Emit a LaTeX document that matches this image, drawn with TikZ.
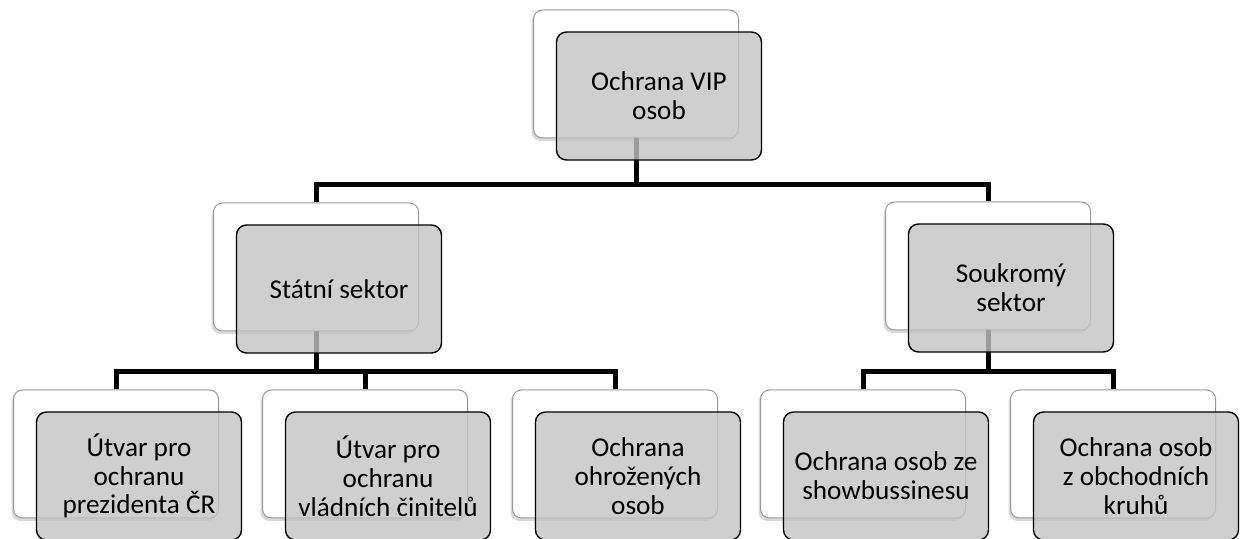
\documentclass[tikz,border=0pt]{standalone}
\usepackage{fontspec}
\setmainfont{Carlito}
\usetikzlibrary{shadows}
\definecolor{seda}{RGB}{195,195,195}

\begin{document}
\begin{tikzpicture}[x=0.5pt,y=-0.5pt,
  zadni/.style={draw=black!40, fill=white, line width=0.5pt, rounded corners=4.5pt,
    minimum width=102.5pt, minimum height=64pt, inner sep=0pt,
    drop shadow={shadow xshift=-1pt, shadow yshift=-1.5pt, opacity=0.3}},
  predni/.style={draw=black, line width=0.7pt, fill=seda, fill opacity=0.8, text opacity=1,
    rounded corners=5pt, minimum width=102.5pt, minimum height=64pt, inner sep=0pt,
    align=center, font=\fontsize{13.6}{14.4}\selectfont},
  spoj/.style={line width=2.5pt}]

\useasboundingbox (0,0) rectangle (1243,539);

% zadni ramecky
\node[zadni] (b-vip) at (636,74) {};
\node[zadni] (b-stat) at (316,267) {};
\node[zadni] (b-souk) at (988,266) {};
\node[zadni] (b-prez) at (116,454) {};
\node[zadni] (b-vlad) at (365,454) {};
\node[zadni] (b-ohro) at (615,454) {};
\node[zadni] (b-show) at (863,454) {};
\node[zadni] (b-obch) at (1113,454) {};

% spojnice
\coordinate (h1) at (636,185);
\coordinate (h2) at (316,372);
\coordinate (h3) at (988,372);

\draw[spoj] (b-vip.south) -- (h1) -| (b-stat.north);
\draw[spoj] (h1) -| (b-souk.north);

\draw[spoj] (b-stat.south) -- (h2);
\foreach \n in {prez,vlad,ohro}
  \draw[spoj] (h2) -| (b-\n.north);

\draw[spoj] (b-souk.south) -- (h3);
\foreach \n in {show,obch}
  \draw[spoj] (h3) -| (b-\n.north);

% predni ramecky
\node[predni] (vip) at ([shift={(23,22)}]b-vip.center) {Ochrana VIP\\osob};
\node[predni] (stat) at ([shift={(23,22)}]b-stat.center) {Státní sektor};
\node[predni] (souk) at ([shift={(23,22)}]b-souk.center) {Soukromý\\sektor};
\node[predni] (prez) at ([shift={(23,22)}]b-prez.center) {Útvar pro\\ochranu\\prezidenta ČR};
\node[predni] (vlad) at ([shift={(23,22)}]b-vlad.center) {Útvar pro\\ochranu\\vládních činitelů};
\node[predni] (ohro) at ([shift={(23,22)}]b-ohro.center) {Ochrana\\ohrožených\\osob};
\node[predni] (show) at ([shift={(23,22)}]b-show.center) {Ochrana osob ze\\showbussinesu};
\node[predni] (obch) at ([shift={(23,22)}]b-obch.center) {Ochrana osob\\z obchodních\\kruhů};

\end{tikzpicture}
\end{document}
